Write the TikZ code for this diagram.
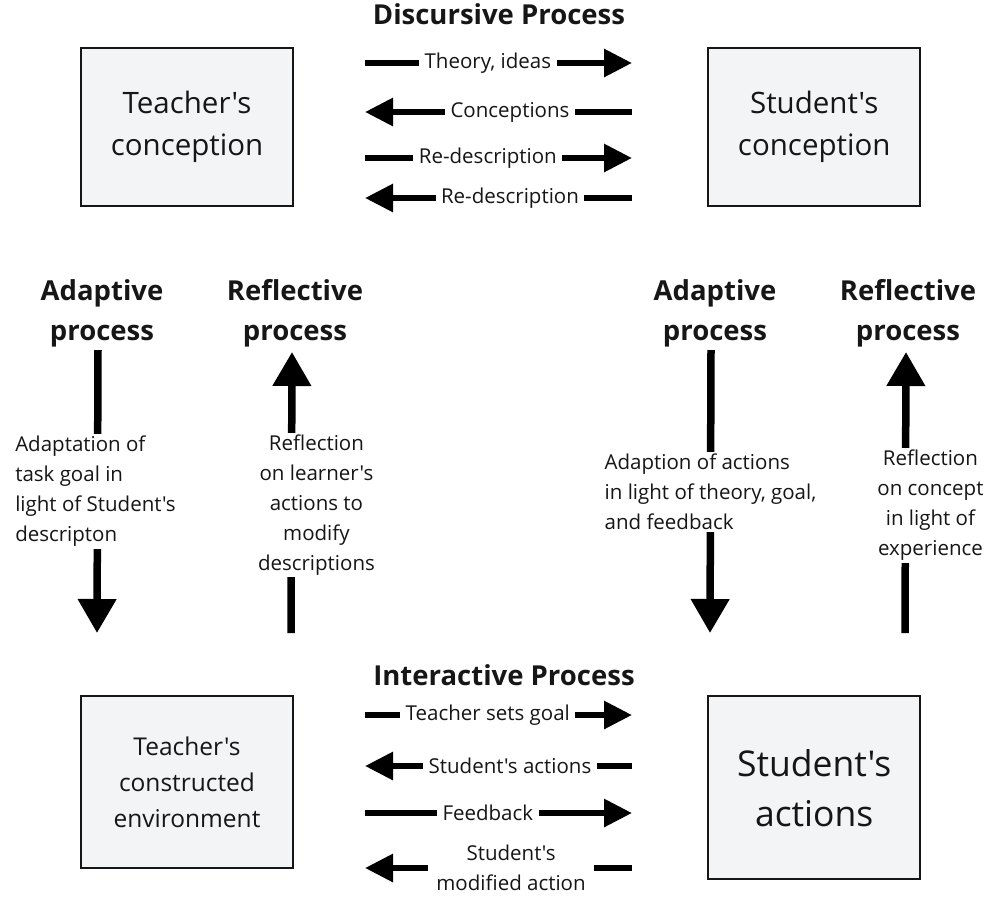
\documentclass[tikz,border=0pt]{standalone}
\usepackage{fontspec}
\setmainfont{Open Sans}[Ligatures=TeXReset]
\usetikzlibrary{arrows.meta,positioning}

\definecolor{boxfill}{HTML}{F3F4F6}
\definecolor{ink}{HTML}{161616}

\tikzset{
  box/.style={draw=ink, fill=boxfill, line width=2.2pt, minimum width=212, align=center, text=ink},
  harrow/.style={line width=6pt, -{Triangle[length=28pt,width=27pt]}},
  varrow/.style={line width=7.5pt, -{Triangle[length=34pt,width=37pt]}},
  hlbl/.style={fill=white, inner xsep=5.5pt, inner ysep=1pt, text=ink, align=center, font=\fontsize{20.5}{30}\selectfont},
  vlbl/.style={fill=white, inner xsep=0pt, inner ysep=2pt, text=ink, font=\fontsize{20.5}{30}\selectfont},
  head/.style={font=\bfseries\fontsize{27.5}{40}\selectfont, align=center, text=ink}
}

\begin{document}
\begin{tikzpicture}[x=1pt,y=-1pt]
\useasboundingbox (0,0) rectangle (1000,898);

% the four boxes
\node[box, minimum height=158, font=\fontsize{29.5}{42}\selectfont] (tconc) at (187,127) {Teacher's\\conception};
\node[box, minimum height=158, font=\fontsize{29.5}{42}\selectfont, right=413pt of tconc] (sconc) {Student's\\conception};
\node[box, minimum height=172, font=\fontsize{24.5}{36}\selectfont, below=488pt of tconc] (tenv) {Teacher's\\constructed\\environment};
\node[box, minimum height=183, font=\fontsize{35.5}{50}\selectfont, below=488pt of sconc] (sact) {Student's\\actions};

% headings
\node[head] (disc)  at (499,14)  {Discursive Process};
\node[head] (inter) at (504,675) {Interactive Process};
\node[head] (tadapt) at (102,313) {Adaptive\\process};
\node[head] (trefl)  at (295,313) {Reflective\\process};
\node[head] (sadapt) at (715,313) {Adaptive\\process};
\node[head] (srefl)  at (908,313) {Reflective\\process};

% discursive arrows
\coordinate (d1w) at (365,63);  \coordinate (d1e) at (632,63);
\coordinate (d2w) at (365,112); \coordinate (d2e) at (632,112);
\coordinate (d3w) at (365,158); \coordinate (d3e) at (632,158);
\coordinate (d4w) at (365,198); \coordinate (d4e) at (632,198);

\draw[harrow] (d1w) -- node[hlbl,pos=.46] (theory) {Theory, ideas} (d1e);
\draw[harrow] (d2e) -- node[hlbl,pos=.457] (concs) {Conceptions} (d2w);
\draw[harrow] (d3w) -- node[hlbl,pos=.46] (redesc1) {Re-description} (d3e);
\draw[harrow] (d4e) -- node[hlbl,pos=.457] (redesc2) {Re-description} (d4w);

% interactive arrows
\coordinate (i1w) at (365,715); \coordinate (i1e) at (632,715);
\coordinate (i2w) at (365,766); \coordinate (i2e) at (632,766);
\coordinate (i3w) at (365,813); \coordinate (i3e) at (632,813);
\coordinate (i4w) at (365,868); \coordinate (i4e) at (632,868);

\draw[harrow] (i1w) -- node[hlbl,pos=.46] (goal) {Teacher sets goal} (i1e);
\draw[harrow] (i2e) -- node[hlbl,pos=.457] (sactions) {Student's actions} (i2w);
\draw[harrow] (i3w) -- node[hlbl,pos=.46] (feedb) {Feedback} (i3e);
\draw[harrow] (i4e) -- node[hlbl,pos=.453,inner xsep=8pt] (modact) {Student's\\modified action} (i4w);

% adaptive / reflective arrows
\coordinate (tat) at (98,350);  \coordinate (tab) at (97,633);
\coordinate (trb) at (291,633); \coordinate (trt) at (292,352);
\coordinate (sat) at (711,350); \coordinate (sab) at (710,633);
\coordinate (srb) at (905,633); \coordinate (srt) at (906,352);

\draw[varrow] (tat) -- node[vlbl,pos=.5,xshift=-2,align=left] (tadtxt)
  {Adaptation of\\task goal in\\light of Student's\\descripton} (tab);
\draw[varrow] (trb) -- node[vlbl,pos=.455,xshift=25,align=center] (trftxt)
  {Reflection\\on learner's\\actions to\\modify\\descriptions} (trt);
\draw[varrow] (sat) -- node[vlbl,pos=.502,align=left] (sadtxt)
  {Adaption of actions\\in light of theory, goal,\\and feedback} (sab);
\draw[varrow] (srb) -- node[vlbl,pos=.454,xshift=25,align=center] (srftxt)
  {Reflection\\on concept\\in light of\\experience} (srt);

\end{tikzpicture}
\end{document}
